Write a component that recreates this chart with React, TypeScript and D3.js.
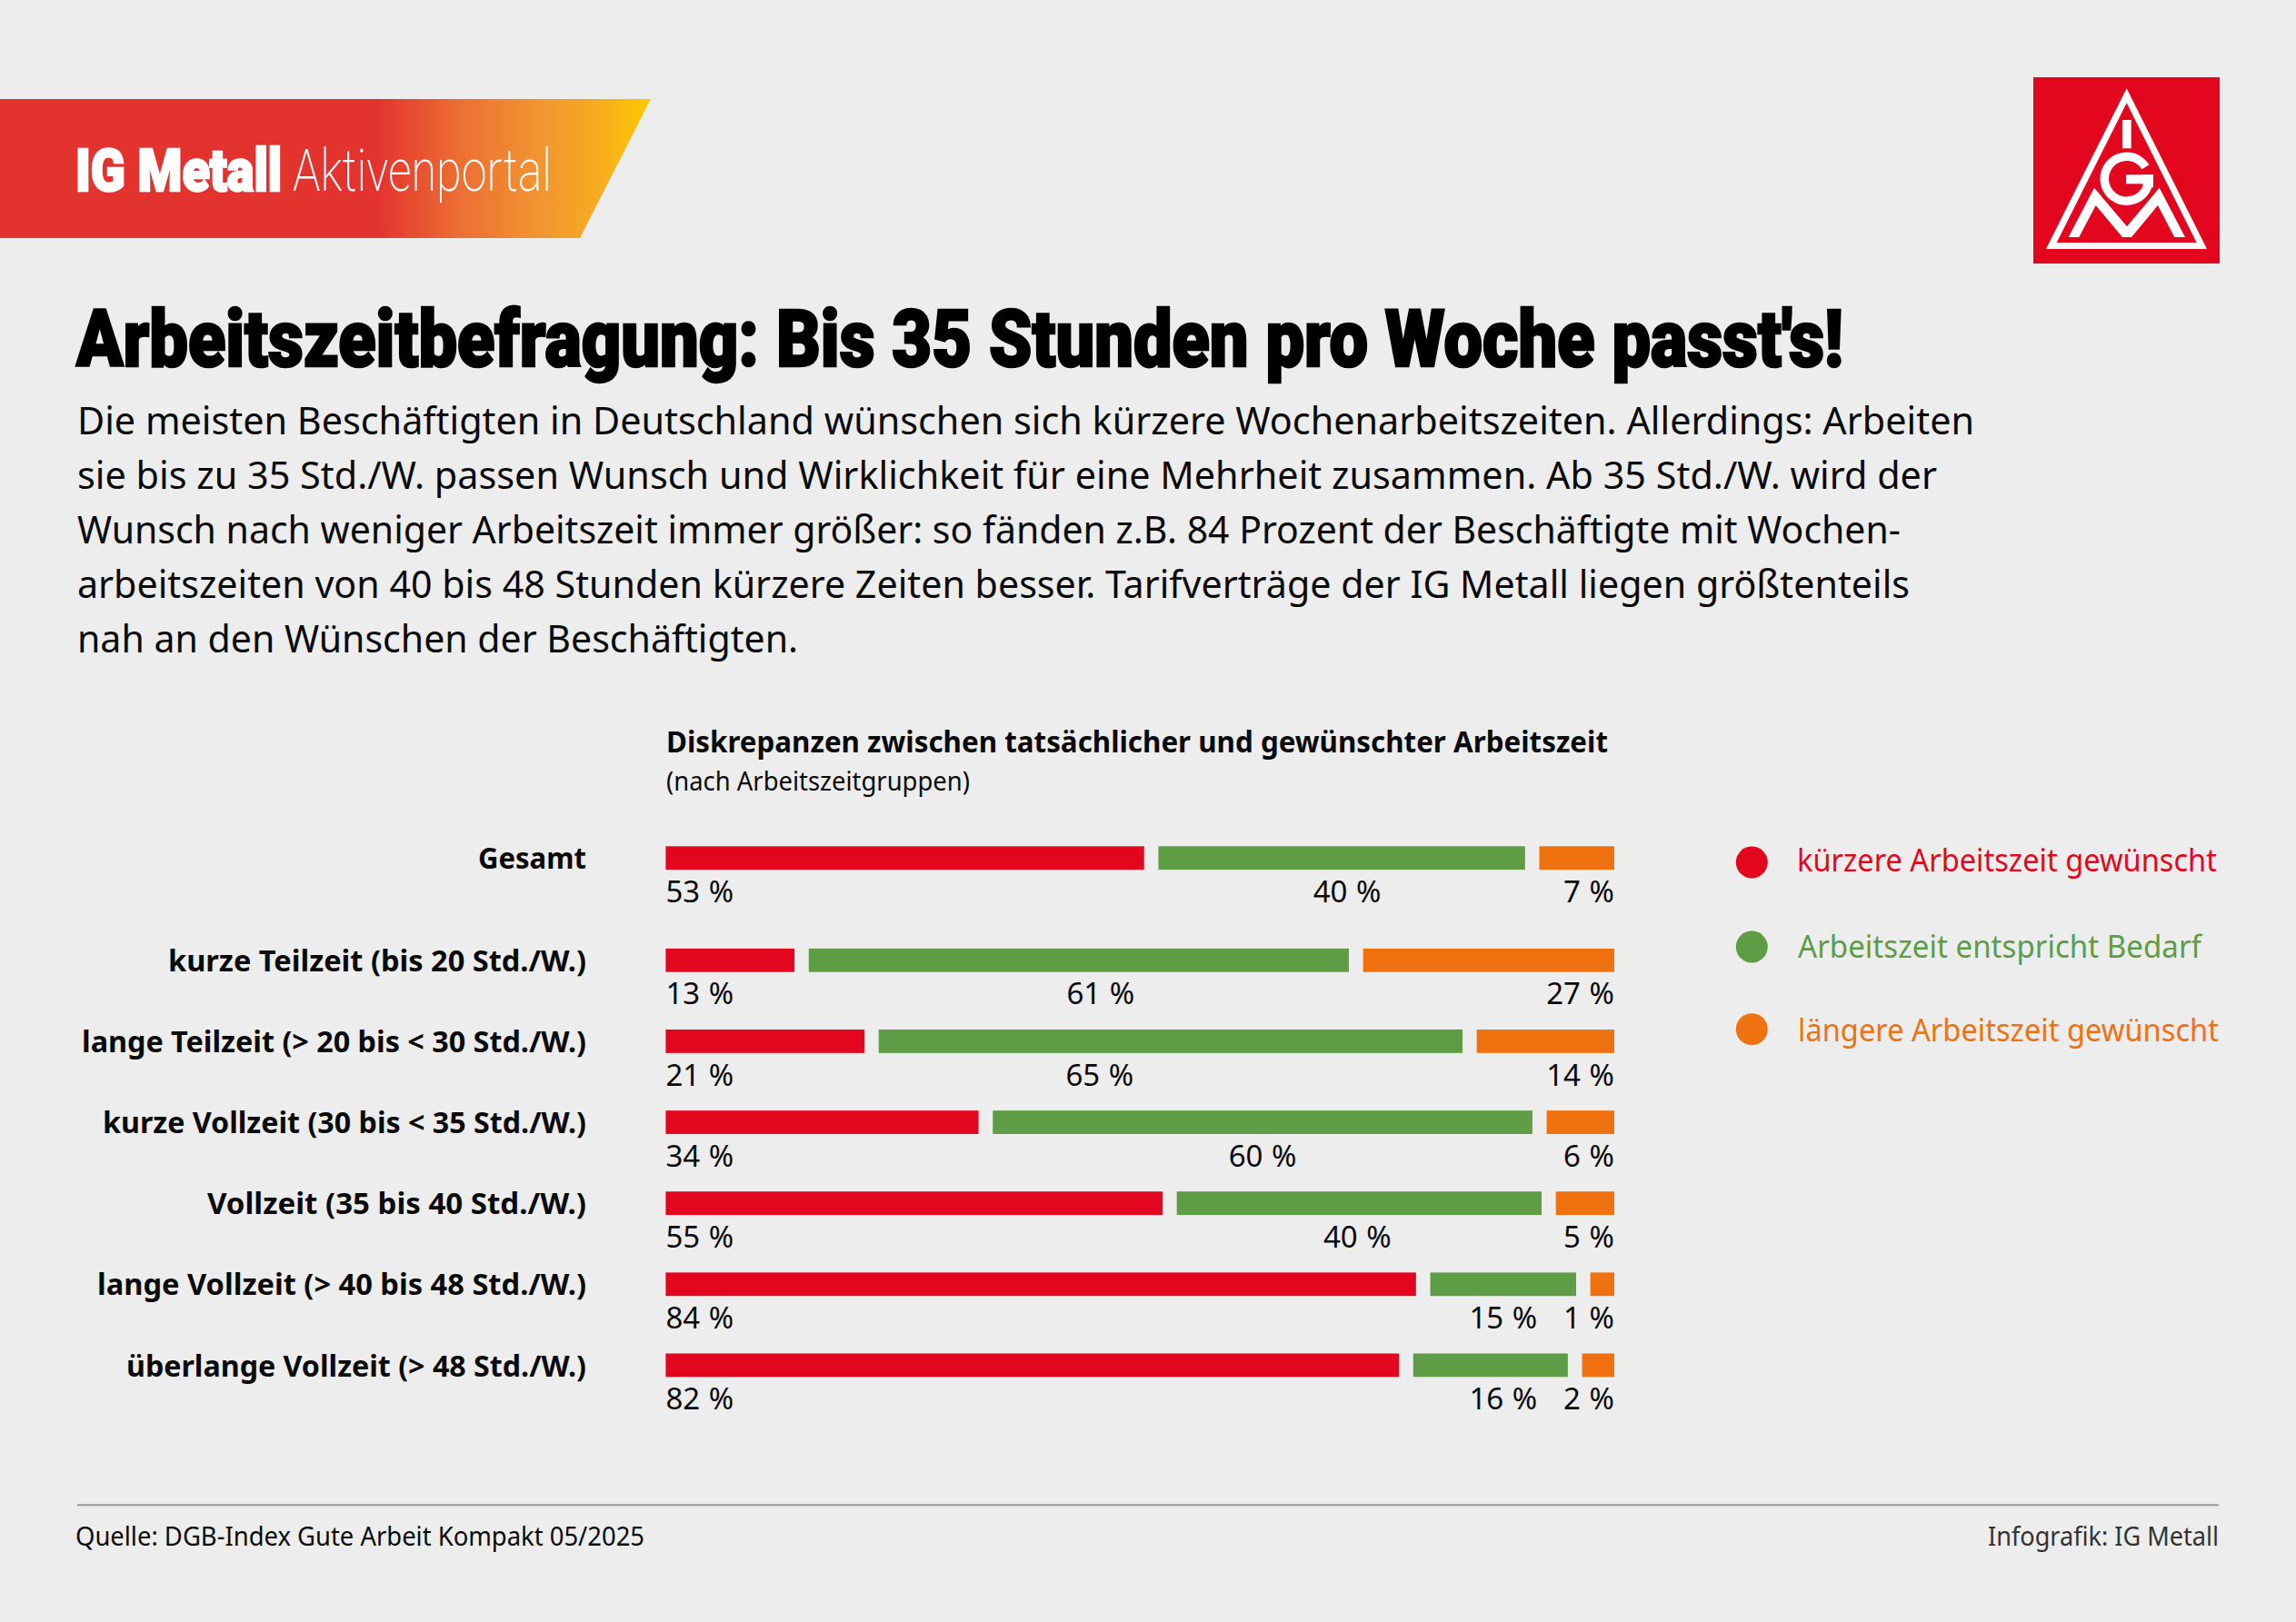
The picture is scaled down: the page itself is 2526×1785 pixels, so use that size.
import * as d3 from "d3";

const categories = [
  "Gesamt",
  "kurze Teilzeit (bis 20 Std./W.)",
  "lange Teilzeit (> 20 bis < 30 Std./W.)",
  "kurze Vollzeit (30 bis < 35 Std./W.)",
  "Vollzeit (35 bis 40 Std./W.)",
  "lange Vollzeit (> 40 bis 48 Std./W.)",
  "überlange Vollzeit (> 48 Std./W.)",
];

// printed percentages
const shorterLabels = [53, 13, 21, 34, 55, 84, 82];
const matchLabels = [40, 61, 65, 60, 40, 15, 16];
const longerLabels = [7, 27, 14, 6, 5, 1, 2];

// bar lengths as drawn in the picture, they differ a bit from the printed numbers
const shorterBars = [52.0, 14.0, 21.6, 34.0, 54.0, 81.55, 79.7];
const matchBars = [39.85, 58.7, 63.45, 58.65, 39.65, 15.85, 16.8];
const longerBars = [8.15, 27.3, 14.95, 7.35, 6.35, 2.6, 3.5];

const seriesNames = ["kürzere Arbeitszeit gewünscht", "Arbeitszeit entspricht Bedarf", "längere Arbeitszeit gewünscht"];

const introLines = [
  "Die meisten Beschäftigten in Deutschland wünschen sich kürzere Wochenarbeitszeiten. Allerdings: Arbeiten",
  "sie bis zu 35 Std./W. passen Wunsch und Wirklichkeit für eine Mehrheit zusammen. Ab 35 Std./W. wird der",
  "Wunsch nach weniger Arbeitszeit immer größer: so fänden z.B. 84 Prozent der Beschäftigte mit Wochen-",
  "arbeitszeiten von 40 bis 48 Stunden kürzere Zeiten besser. Tarifverträge der IG Metall liegen größtenteils",
  "nah an den Wünschen der Beschäftigten.",
];

// layout
const W = 2526;
const H = 1785;
const SANS = "'Noto Sans', sans-serif";
const HEAVY = "Roboto, sans-serif";
const COLORS = ["#e2071e", "#5e9c46", "#ef710f"];
const INK = "#0a0a0a";
const BAR_H = 25.8;
const GAP = 15.7;
const X0 = 732.4;
const X1 = 1776;
const introRight = [2172, 2131, 2091, 2101, 878];
const categoryWidths = [119, 460, 555, 532, 417, 538, 506];
// green labels are hand placed in the original, offset from the middle of the segment
const matchNudge = [6, 24, -78, 0, -2, 0, 14];
const legendY = [949, 1042, 1132.7];
const legendText = [
  { x: 1977, w: 462, y: 959.3 },
  { x: 1978, w: 444, y: 1054.3 },
  { x: 1978, w: 463, y: 1146 },
];

const x = d3.scaleLinear().domain([0, 100]).range([X0, X1 - 2 * GAP]);
const rowY = d3.scaleLinear().domain([1, 6]).range([1043.9, 1489.5]);
const yOf = (i: number) => (i === 0 ? rowY(1) - 112.6 : rowY(i));

const table = categories.map((name, i) => ({
  name,
  shorter: shorterBars[i],
  match: matchBars[i],
  longer: longerBars[i],
}));
const stacked = d3.stack<(typeof table)[number]>().keys(["shorter", "match", "longer"])(table);

function Fit({ x, y, w, size, fill = INK, weight = 400, family = SANS, bulk = 0, children }: any) {
  return (
    <text
      x={x}
      y={y}
      fontSize={size}
      fontWeight={weight}
      fontFamily={family}
      fill={fill}
      stroke={bulk ? fill : undefined}
      strokeWidth={bulk || undefined}
      textLength={w}
      lengthAdjust="spacingAndGlyphs"
    >
      {children}
    </text>
  );
}

function Logo() {
  const arc = d3.arc()({
    innerRadius: 19.7,
    outerRadius: 29.2,
    startAngle: (95 * Math.PI) / 180,
    endAngle: (418 * Math.PI) / 180,
  }) as string;
  return (
    <g>
      <rect x={2237} y={85} width={205} height={205} fill="#e2071e" />
      <path
        fillRule="evenodd"
        fill="#fff"
        d="M2339.7 97.3L2428 274H2251ZM2339.7 113.3L2262.7 267H2416.7Z"
      />
      <rect x={2335} y={132} width={9.7} height={31.3} fill="#fff" />
      <path d={arc} transform="translate(2339.7,196.7)" fill="#fff" />
      <rect x={2339} y={192.3} width={30} height={10} fill="#fff" />
      <rect x={2357.5} y={192.3} width={11.5} height={14} fill="#fff" />
      <path
        fill="#fff"
        d="M2275.7 261L2304 206.7L2340 249.3L2375.7 206.7L2404 261H2392.3L2374 226L2345 261H2335L2305.7 226L2287.3 261Z"
      />
    </g>
  );
}

export default function App() {
  return (
    <svg
      width={W}
      height={H}
      viewBox={`0 0 ${W} ${H}`}
      style={{ position: "absolute", left: 0, top: 0, display: "block", background: "#ededed" }}
    >
      <defs>
        <linearGradient id="banner" gradientUnits="userSpaceOnUse" x1={0} x2={716} y1={0} y2={0}>
          <stop offset="0.58" stopColor="#e3332f" />
          <stop offset="0.7" stopColor="#ec6c33" />
          <stop offset="0.83" stopColor="#f29531" />
          <stop offset="0.92" stopColor="#f6ac20" />
          <stop offset="1" stopColor="#fdca00" />
        </linearGradient>
      </defs>

      {/* Banner */}
      <path d="M0 109H716L638 262H0Z" fill="url(#banner)" />
      <Fit x={83} y={210} w={227} size={65} fill="#fff" weight={900} family={HEAVY} bulk={2.6}>
        IG Metall
      </Fit>
      <Fit x={322} y={210} w={285} size={65} fill="#fff" weight={200} family={HEAVY}>
        Aktivenportal
      </Fit>
      <Logo />

      {/* Headline */}
      <Fit x={84} y={403} w={1944} size={87} weight={900} family={HEAVY} fill="#000" bulk={2.6}>
        Arbeitszeitbefragung: Bis 35 Stunden pro Woche passt's!
      </Fit>
      {introLines.map((line, i) => (
        <Fit key={i} x={85} y={478 + i * 60} w={introRight[i] - 85} size={42}>
          {line}
        </Fit>
      ))}

      {/* Chart heading */}
      <Fit x={733} y={828.3} w={1036} size={33} weight={700}>
        Diskrepanzen zwischen tatsächlicher und gewünschter Arbeitszeit
      </Fit>
      <Fit x={733} y={870} w={334} size={29}>
        (nach Arbeitszeitgruppen)
      </Fit>

      {/* Bars */}
      {stacked.map((series, s) => (
        <g key={series.key} fill={COLORS[s]}>
          {series.map((d, i) => (
            <rect
              key={i}
              x={x(d[0]) + s * GAP}
              y={yOf(i)}
              width={x(d[1]) - x(d[0])}
              height={BAR_H}
            />
          ))}
        </g>
      ))}

      {/* Row labels */}
      {categories.map((name, i) => (
        <Fit key={name} x={645 - categoryWidths[i]} y={yOf(i) + 25} w={categoryWidths[i]} size={33} weight={700}>
          {name}
        </Fit>
      ))}

      {/* Value labels */}
      <g fontFamily={SANS} fontSize={33} fill={INK} wordSpacing={1}>
        {categories.map((_, i) => {
          const g = stacked[1][i];
          const mid = (x(g[0]) + x(g[1])) / 2 + GAP + matchNudge[i];
          const y = yOf(i) + 61.5;
          return (
            <g key={i}>
              <text x={X0} y={y}>{shorterLabels[i]} %</text>
              <text x={mid} y={y} textAnchor="middle">{matchLabels[i]} %</text>
              <text x={X1} y={y} textAnchor="end">{longerLabels[i]} %</text>
            </g>
          );
        })}
      </g>

      {/* Legend */}
      {seriesNames.map((name, i) => (
        <g key={name}>
          <circle cx={1927.3} cy={legendY[i]} r={17.5} fill={COLORS[i]} />
          <Fit x={legendText[i].x} y={legendText[i].y} w={legendText[i].w} size={34} fill={COLORS[i]}>
            {name}
          </Fit>
        </g>
      ))}

      {/* Footer */}
      <line x1={85} x2={2441} y1={1656.3} y2={1656.3} stroke="#999" strokeWidth={2} />
      <Fit x={83} y={1700.7} w={626} size={29}>
        Quelle: DGB-Index Gute Arbeit Kompakt 05/2025
      </Fit>
      <Fit x={2187} y={1700.7} w={254} size={29} fill="#333">
        Infografik: IG Metall
      </Fit>
    </svg>
  );
}
